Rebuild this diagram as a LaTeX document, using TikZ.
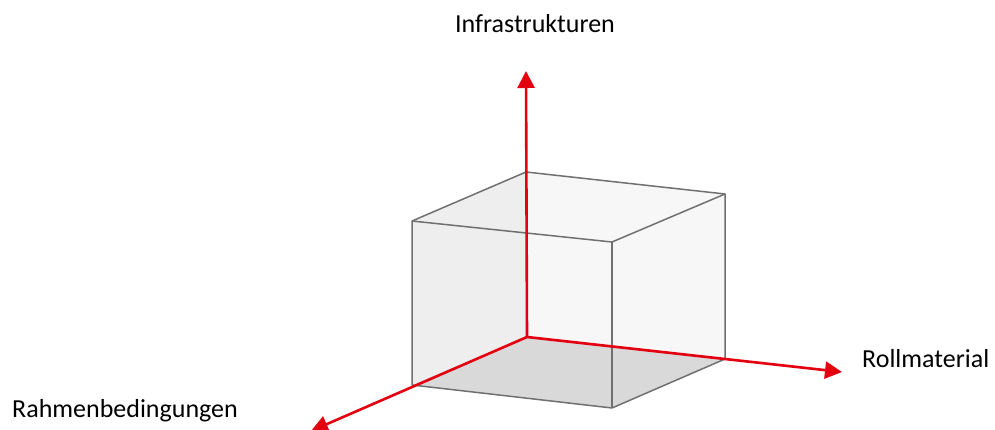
\documentclass[tikz,border=0pt]{standalone}
\usepackage{fontspec}
\setmainfont{Carlito}
\usetikzlibrary{arrows.meta}
\definecolor{axisred}{HTML}{E3000F}
\definecolor{edgegray}{HTML}{707070}
\definecolor{facelight}{HTML}{F7F7F7}
\definecolor{faceleft}{HTML}{EEEEEE}
\definecolor{facebottom}{HTML}{D9D9D9}
\begin{document}
\begin{tikzpicture}[x=1pt,y=-1pt,
  axisline/.style={draw=axisred,line width=2.6pt,-{Triangle[length=17pt,width=17pt]}},
  edgeline/.style={draw=edgegray,line width=1.5pt,line join=round},
  lbl/.style={inner sep=0pt,font=\fontsize{26}{30}\selectfont,text=black}]
\useasboundingbox (0,0) rectangle (995,430);
% cube corners
\coordinate (O) at (527,337);
\coordinate (A) at (412,385);
\coordinate (B) at (612,408);
\coordinate (C) at (725,359);
\coordinate (Ot) at (526,172);
\coordinate (At) at (412,221);
\coordinate (Bt) at (612,242);
\coordinate (Ct) at (725,194);
% axis ends
\coordinate (Z) at (526,71);
\coordinate (X) at (842,372);
\coordinate (Y) at (311,431);
% faces
\fill[facelight] (A) -- (At) -- (Ot) -- (Ct) -- (C) -- (B) -- cycle;
\fill[faceleft] (A) -- (At) -- (Ot) -- (O) -- cycle;
\fill[facebottom] (A) -- (O) -- (C) -- (B) -- cycle;
% edges
\draw[edgeline] (A) -- (At) -- (Ot) -- (Ct) -- (C) -- (B) -- (A);
\draw[edgeline] (At) -- (Bt) -- (Ct);
\draw[edgeline] (Bt) -- (B);
% axes
\draw[axisline] (O) -- (Z);
\draw[axisline] (O) -- (X);
\draw[axisline] (O) -- (Y);
% labels
\node[lbl,anchor=base] (infra) at (535,33) {Infrastrukturen};
\node[lbl,anchor=base west] (roll) at (862,367) {Rollmaterial};
\node[lbl,anchor=base west] (rahmen) at (12,417) {Rahmenbedingungen};
\end{tikzpicture}
\end{document}
